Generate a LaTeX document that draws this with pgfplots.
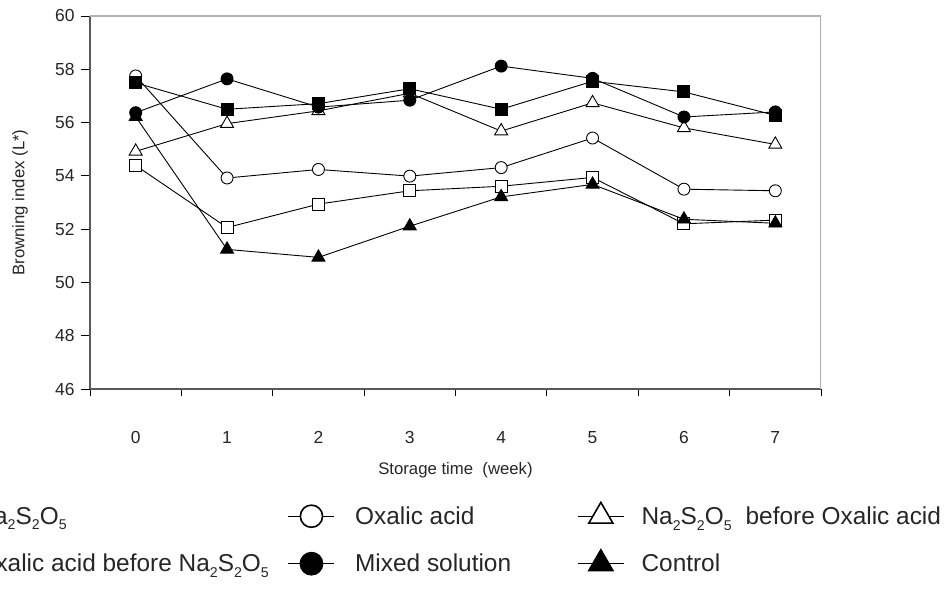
\documentclass[border=0pt]{standalone}
\usepackage{fontspec}
\setmainfont{Liberation Sans}
\usepackage{graphicx}
\usepackage{pgfplots}
\pgfplotsset{compat=1.18}

\newcommand{\sub}[1]{\raisebox{-0.24em}{\scalebox{0.58}{#1}}}
\newcommand{\nasso}{Na\sub{2}S\sub{2}O\sub{5}}

\begin{document}
\begin{tikzpicture}
\begin{axis}[
    scale only axis,
    width=731bp,
    height=373bp,
    xmin=-0.5, xmax=7.5,
    ymin=46, ymax=60,
    axis x line*=bottom,
    axis y line*=left,
    axis line style={black!65, line width=1.2bp},
    xtick={0,...,7},
    major x tick style={draw=none},
    minor xtick={-0.5,0.5,...,7.5},
    minor x tick style={black, line width=0.8bp},
    minor tick length=7bp,
    ytick={46,48,...,60},
    major tick length=9bp,
    y tick style={black, line width=0.8bp},
    tick align=outside,
    /pgf/number format/assume math mode=true,
    tick label style={font=\fontsize{17.5}{19}\selectfont, text=black!85},
    xticklabel style={yshift=-30bp},
    yticklabel style={xshift=-3bp},
    xlabel={Storage time\ \ (week)},
    ylabel={Browning index (L*)},
    every axis x label/.style={at={(rel axis cs:0.5,0)}, yshift=-81bp,
        anchor=center, font=\fontsize{16.8}{18}\selectfont, text=black!85},
    every axis y label/.style={at={(rel axis cs:0,0.5)}, xshift=-70bp,
        rotate=90, anchor=center, font=\fontsize{16.8}{18}\selectfont, text=black!85},
    every axis plot/.append style={black, line width=0.9bp},
    legend columns=3,
    legend style={
        at={(axis description cs:-0.2545,-0.298)},
        anchor=north west,
        draw=none, fill=none,
        font=\fontsize{24.5}{28}\selectfont,
        text=black!85,
        row sep=22bp,
        /tikz/column 1/.style={column sep=20bp},
        /tikz/column 2/.style={column sep=17bp},
        /tikz/column 3/.style={column sep=18bp},
        /tikz/column 4/.style={column sep=64bp},
        /tikz/column 5/.style={column sep=15bp},
    },
    legend cell align=left,
    legend image code/.code={
        \draw[mark repeat=2, mark phase=2, #1, line width=1.4bp,
              every mark/.append style={scale=1.85, line width=1.6bp}]
            plot coordinates {(0bp,0bp) (23bp,0bp) (46bp,0bp)};
    },
]

% Na2S2O5
\addplot[mark=square*, mark size=6bp, mark options={fill=white}] coordinates {
    (0,54.39) (1,52.06) (2,52.94) (3,53.44) (4,53.61) (5,53.94) (6,52.20) (7,52.34)
};
% Oxalic acid
\addplot[mark=*, mark size=6bp, mark options={fill=white}] coordinates {
    (0,57.75) (1,53.92) (2,54.24) (3,53.99) (4,54.31) (5,55.42) (6,53.50) (7,53.44)
};
% Na2S2O5 before Oxalic acid
\addplot[mark=triangle*, mark size=7.5bp, mark options={fill=white}] coordinates {
    (0,54.92) (1,55.96) (2,56.44) (3,57.10) (4,55.68) (5,56.74) (6,55.80) (7,55.18)
};
% Oxalic acid before Na2S2O5
\addplot[mark=square*, mark size=6bp, mark options={fill=black}] coordinates {
    (0,57.49) (1,56.50) (2,56.71) (3,57.27) (4,56.50) (5,57.55) (6,57.15) (7,56.27)
};
% Mixed solution
\addplot[mark=*, mark size=6bp, mark options={fill=black}] coordinates {
    (0,56.37) (1,57.64) (2,56.58) (3,56.84) (4,58.12) (5,57.66) (6,56.21) (7,56.40)
};
% Control
\addplot[mark=triangle*, mark size=7.5bp, mark options={fill=black}] coordinates {
    (0,56.22) (1,51.24) (2,50.94) (3,52.11) (4,53.21) (5,53.68) (6,52.37) (7,52.22)
};

\legend{\nasso, Oxalic acid, \nasso\hspace{14bp}before Oxalic acid,
        Oxalic acid before \nasso, Mixed solution, Control}

\draw[black!30, line width=1.2bp] (rel axis cs:0,1) -- (rel axis cs:1,1) -- (rel axis cs:1,0);
\coordinate (bl) at (rel axis cs:0,0);
\coordinate (tr) at (rel axis cs:1,1);
\end{axis}
\pgfresetboundingbox
\path[use as bounding box] ([shift={(-90bp,-201bp)}]bl) rectangle ([shift={(128bp,16bp)}]tr);
\end{tikzpicture}
\end{document}
